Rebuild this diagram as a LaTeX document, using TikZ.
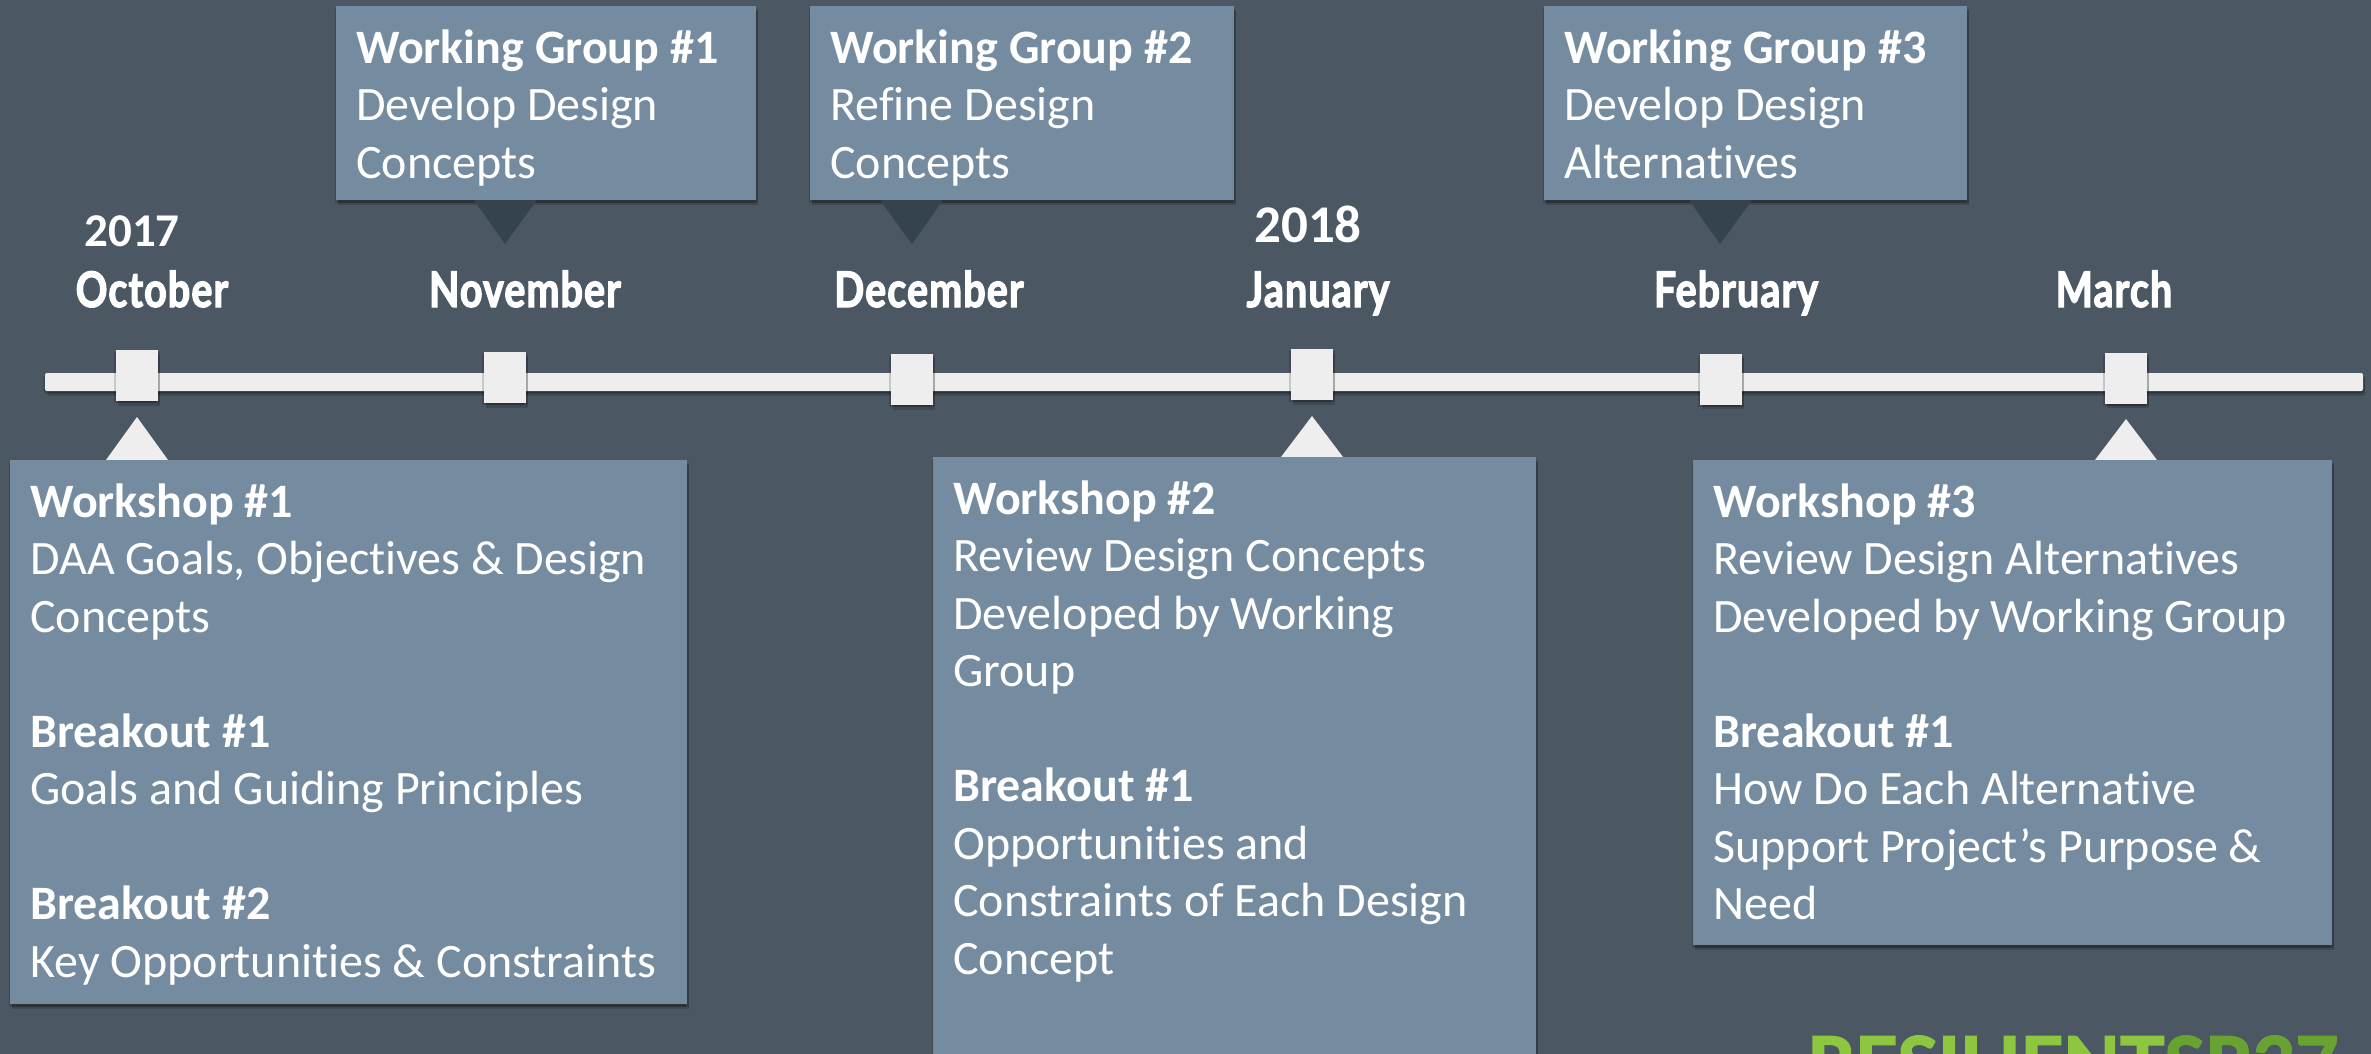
\documentclass[tikz,border=0pt]{standalone}
\usepackage{fontspec}
\setmainfont[Ligatures=NoCommon]{Carlito}
\newfontfamily\monthfont[FakeStretch=0.80, FakeBold=2.5, LetterSpace=2.5]{Lato}
\newfontfamily\logofont[FakeBold=2.5]{Lato}
\usepackage{tikz}
\usetikzlibrary{shadows, positioning}
\definecolor{slidebg}{HTML}{4B5763}
\definecolor{panelblue}{HTML}{758BA0}
\definecolor{barwhite}{HTML}{EEEEEE}
\definecolor{pointerdark}{HTML}{34434E}
\definecolor{logolight}{HTML}{8DC63F}
\definecolor{logodark}{HTML}{68A332}
\tikzstyle{softshadow} = [drop shadow={shadow xshift=-0.8pt, shadow yshift=-1.2pt, opacity=0.16, fill=black}, drop shadow={shadow xshift=1pt, shadow yshift=-1.2pt, opacity=0.16, fill=black}, drop shadow={shadow xshift=1pt, shadow yshift=-2.4pt, opacity=0.16, fill=black}]
\tikzstyle{panel} = [rectangle, fill=panelblue, draw=none, anchor=north west, inner sep=0pt, softshadow]
\tikzstyle{paneltext} = [anchor=north west, align=left, text=white, inner xsep=10pt, inner ysep=11.5pt, font=\fontsize{24}{28.75}\selectfont]
\tikzstyle{tick} = [rectangle, fill=barwhite, draw=none, minimum width=21pt, minimum height=25.5pt, inner sep=0pt, softshadow]
\tikzstyle{month} = [anchor=base, text=white, inner sep=0pt, font=\monthfont\bfseries\fontsize{24.5}{28}\selectfont]
\tikzstyle{yearlabel} = [anchor=base, text=white, inner sep=0pt, font=\bfseries\fontsize{23.5}{28}\selectfont]
\begin{document}
\begin{tikzpicture}[x=0.5pt, y=-0.5pt]
            \fill[slidebg] (0,0) rectangle (2371,1054);
            \clip (0,0) rectangle (2371,1054);
            \useasboundingbox (0,0) rectangle (2371,1054);

            \fill[barwhite, rounded corners=1pt, softshadow] (45,373) rectangle (2363,391);
            \node[tick] (octTick) at (137,375.5) {};
            \node[tick] (novTick) at (505,377.5) {};
            \node[tick] (decTick) at (912,379.5) {};
            \node[tick] (janTick) at (1312,374.5) {};
            \node[tick] (febTick) at (1721,379) {};
            \node[tick] (marTick) at (2126,378) {};

            \node[yearlabel] (year1) at (132,246) {2017};
            \node[yearlabel, font=\bfseries\fontsize{26.5}{30}\selectfont] (year2) at (1308,242) {2018};
            \node[month] (octLabel) at (152,307) {October};
            \node[month] (novLabel) at (525,307) {November};
            \node[month] (decLabel) at (929,307) {December};
            \node[month] (janLabel) at (1318,307) {January};
            \node[month] (febLabel) at (1736,307) {February};
            \node[month] (marLabel) at (2114,307) {March};

            \fill[barwhite] (106,460) -- (137,417) -- (168,460) -- cycle;
            \fill[barwhite] (1281,457) -- (1312,416) -- (1343,457) -- cycle;
            \fill[barwhite] (2095,460) -- (2126,419) -- (2157,460) -- cycle;

            \node[panel, minimum width=210pt, minimum height=97pt] (wg1) at (336,6) {};
            \node[panel, minimum width=212pt, minimum height=97pt] (wg2) at (810,6) {};
            \node[panel, minimum width=211.5pt, minimum height=97pt] (wg3) at (1544,6) {};
            \node[panel, minimum width=338.5pt, minimum height=272pt] (ws1) at (10,460) {};
            \node[panel, minimum width=301.5pt, minimum height=310pt] (ws2) at (933,457) {};
            \node[panel, minimum width=319.5pt, minimum height=242.5pt] (ws3) at (1693,460) {};

            \fill[pointerdark] (474,200) -- (537,200) -- (505,244) -- cycle;
            \fill[pointerdark] (880,200) -- (943,200) -- (912,244) -- cycle;
            \fill[pointerdark] (1689,200) -- (1752,200) -- (1720,244) -- cycle;

            \node[paneltext] (wg1Text) at (wg1.north west) {\textbf{Working Group \#1}\\Develop Design\\Concepts};
            \node[paneltext] (wg2Text) at (wg2.north west) {\textbf{Working Group \#2}\\Refine Design\\Concepts};
            \node[paneltext] (wg3Text) at (wg3.north west) {\textbf{Working Group \#3}\\Develop Design\\Alternatives};
            \node[paneltext] (ws1Text) at (ws1.north west) {\textbf{Workshop \#1}\\DAA Goals, Objectives \& Design\\Concepts\\[28.75pt]\textbf{Breakout \#1}\\Goals and Guiding Principles\\[28.75pt]\textbf{Breakout \#2}\\Key Opportunities \& Constraints};
            \node[paneltext] (ws2Text) at (ws2.north west) {\textbf{Workshop \#2}\\Review Design Concepts\\Developed by Working\\Group\\[28.75pt]\textbf{Breakout \#1}\\Opportunities and\\Constraints of Each Design\\Concept};
            \node[paneltext] (ws3Text) at (ws3.north west) {\textbf{Workshop \#3}\\Review Design Alternatives\\Developed by Working Group\\[28.75pt]\textbf{Breakout \#1}\\How Do Each Alternative\\Support Project’s Purpose \&\\Need};

            \node[anchor=base west, inner sep=0pt, font=\logofont\bfseries\fontsize{37}{40}\selectfont] (logo) at (1807,1090) {\textcolor{logolight}{RESILIENT}\textcolor{logodark}{SR37}};
        \end{tikzpicture}
\end{document}
